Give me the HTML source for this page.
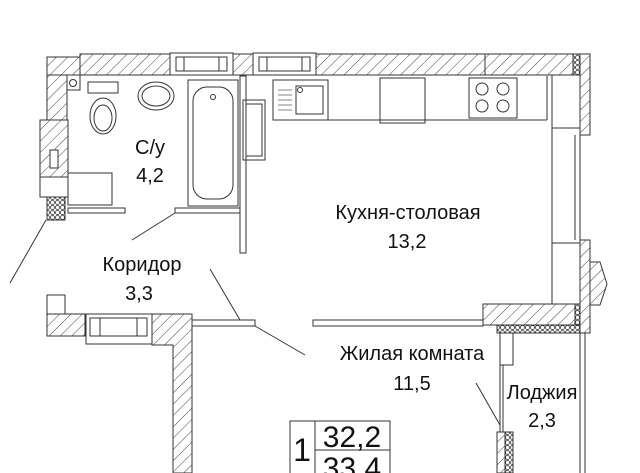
<!DOCTYPE html>
<html><head><meta charset="utf-8"><style>
html,body{margin:0;padding:0;background:#fff;width:640px;height:473px;overflow:hidden}
svg{display:block}
text{font-family:"Liberation Sans",sans-serif;fill:#111}
</style></head><body>
<svg width="640" height="473" viewBox="0 0 640 473" xmlns="http://www.w3.org/2000/svg">
<defs>
<pattern id="h" patternUnits="userSpaceOnUse" width="8" height="8" patternTransform="rotate(45)">
<rect width="8" height="8" fill="#fff"/><line x1="0" y1="0" x2="0" y2="8" stroke="#444" stroke-width="1"/></pattern>
<pattern id="hx" patternUnits="userSpaceOnUse" width="5" height="5">
<rect width="5" height="5" fill="#fff"/><circle cx="2.5" cy="2.5" r="2" fill="none" stroke="#333" stroke-width="0.8"/></pattern>
</defs>
<g stroke="#333" stroke-width="1" fill="none">
<rect x="80" y="54" width="90" height="21" fill="url(#h)"/>
<rect x="233" y="54" width="20" height="21" fill="url(#h)"/>
<rect x="316" y="54" width="169" height="21" fill="url(#h)"/>
<rect x="485" y="54" width="88" height="21" fill="url(#h)"/>
<rect x="573" y="54" width="7" height="21" fill="url(#hx)"/>
<rect x="170" y="53" width="63" height="22" fill="#fff"/><rect x="176" y="57" width="51" height="14"/><line x1="184" y1="57" x2="184" y2="71"/><line x1="219" y1="57" x2="219" y2="71"/>
<rect x="253" y="53" width="63" height="22" fill="#fff"/><rect x="259" y="57" width="51" height="14"/><line x1="267" y1="57" x2="267" y2="71"/><line x1="302" y1="57" x2="302" y2="71"/>
<rect x="47" y="57" width="33" height="18" fill="url(#h)"/>
<rect x="47" y="75" width="20" height="45" fill="url(#h)"/>
<rect x="40" y="120" width="28" height="57" fill="url(#h)"/>
<rect x="40" y="177" width="28" height="20" fill="#fff"/>
<rect x="47" y="197" width="18" height="23" fill="url(#hx)"/>
<rect x="50" y="150" width="8" height="18" fill="#fff"/>
<rect x="67" y="75" width="13" height="15"/><circle cx="73" cy="83" r="3.5"/>
<rect x="580" y="54" width="10" height="81" fill="url(#h)"/>
<rect x="580" y="240" width="10" height="93" fill="url(#h)"/>
<polygon points="590,262 600,262 607,284 600,305 590,305" fill="url(#h)"/>
<line x1="552" y1="75" x2="552" y2="304"/>
<line x1="552" y1="128" x2="580" y2="128"/><line x1="552" y1="243" x2="580" y2="243"/>
<line x1="575" y1="135" x2="575" y2="240"/><line x1="580" y1="135" x2="580" y2="240"/>
<rect x="47" y="295" width="18" height="19"/>
<rect x="47" y="314" width="38" height="22" fill="url(#h)"/>
<rect x="86" y="314" width="66" height="30" fill="#fff"/><rect x="90" y="318" width="57" height="18"/><line x1="100" y1="318" x2="100" y2="336"/><line x1="137" y1="318" x2="137" y2="336"/>
<polygon points="152,314 192,314 192,473 173,473 173,345 152,345" fill="url(#h)"/>
<rect x="192" y="320" width="63" height="6" fill="#fff"/>
<rect x="313" y="320" width="170" height="6" fill="#fff"/>
<rect x="483" y="304" width="97" height="21" fill="url(#h)"/>
<rect x="497" y="325" width="83" height="8" fill="url(#hx)"/>
<rect x="575" y="304" width="5" height="21" fill="url(#hx)"/>
<rect x="500" y="333" width="13" height="32" fill="#fff"/>
<line x1="500" y1="365" x2="500" y2="432"/><line x1="503" y1="365" x2="503" y2="432"/>
<rect x="497" y="432" width="8" height="41" fill="url(#h)"/><rect x="505" y="432" width="8" height="41" fill="url(#hx)"/>
<line x1="580" y1="333" x2="580" y2="473"/><line x1="585" y1="333" x2="585" y2="473"/>
<rect x="68" y="208" width="57" height="5" fill="#fff"/>
<rect x="175" y="208" width="65" height="5" fill="#fff"/>
<rect x="240" y="76" width="6" height="177" fill="#fff"/>
<rect x="68" y="173" width="44" height="32"/>
<rect x="88" y="82" width="30" height="11"/><ellipse cx="103" cy="116" rx="13" ry="18"/><ellipse cx="103" cy="118" rx="9" ry="13"/>
<ellipse cx="156" cy="96" rx="18" ry="14"/><ellipse cx="156" cy="96" rx="14" ry="10"/>
<rect x="188" y="80" width="50" height="126"/><rect x="193" y="87" width="40" height="112" rx="14"/><circle cx="213" cy="97" r="2.5"/>
<rect x="243" y="100" width="22" height="60"/><rect x="246" y="104" width="16" height="52"/>
<rect x="273" y="80" width="55" height="40"/><rect x="296" y="86" width="27" height="28"/><circle cx="300" cy="90" r="2.5"/>
<g stroke-width="0.6"><line x1="278" y1="90" x2="292" y2="90"/><line x1="278" y1="95" x2="292" y2="95"/><line x1="278" y1="100" x2="292" y2="100"/><line x1="278" y1="105" x2="292" y2="105"/><line x1="278" y1="110" x2="292" y2="110"/></g>
<rect x="380" y="78" width="45" height="45"/>
<rect x="469" y="78" width="48" height="40"/><circle cx="482" cy="89" r="6"/><circle cx="503" cy="89" r="6"/><circle cx="482" cy="106" r="6"/><circle cx="503" cy="106" r="6"/>
<line x1="328" y1="120" x2="547" y2="120"/><line x1="547" y1="76" x2="547" y2="120"/>
<line x1="46" y1="220" x2="10" y2="283"/><line x1="175" y1="213" x2="132" y2="240"/>
<line x1="210" y1="269" x2="240" y2="320"/><line x1="255" y1="326" x2="305" y2="355"/>
<line x1="476" y1="383" x2="500" y2="425"/>
<rect x="290" y="421" width="100" height="60"/><line x1="315" y1="421" x2="315" y2="473"/><line x1="315" y1="450" x2="390" y2="450"/>
</g>
<g font-size="20" text-anchor="middle">
<text x="150" y="154">С/у</text><text x="150" y="182">4,2</text>
<text x="408" y="219">Кухня-столовая</text><text x="407" y="248">13,2</text>
<text x="142" y="271">Коридор</text><text x="139" y="300">3,3</text>
<text x="412" y="360">Жилая комната</text><text x="412" y="390">11,5</text>
<text x="542" y="399">Лоджия</text><text x="542" y="427">2,3</text>
<text x="302" y="461" font-size="32">1</text>
<text x="352" y="447" font-size="30">32,2</text><text x="352" y="478" font-size="30">33,4</text>
</g>
</svg>
</body></html>
